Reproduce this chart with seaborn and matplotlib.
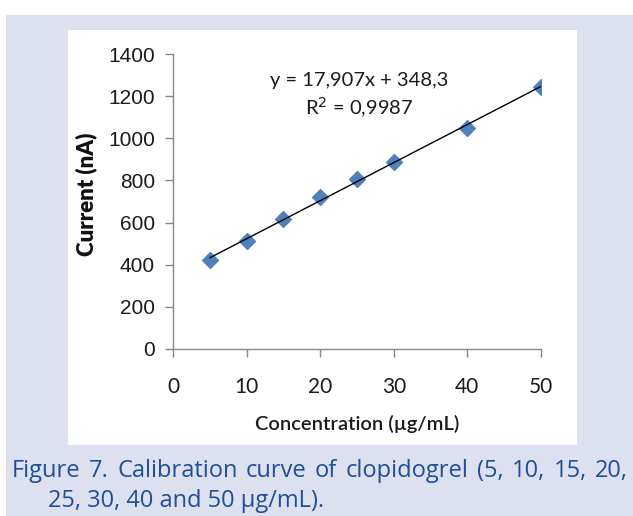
import matplotlib
matplotlib.use("Agg")
import matplotlib.pyplot as plt
import seaborn as sns
from matplotlib.patches import Rectangle

# calibration data
concentration = [5, 10, 15, 20, 25, 30, 40, 50]
current = [423, 513, 615, 722, 808, 888, 1050, 1245]
x_ticks = [0, 10, 20, 30, 40, 50]
y_ticks = [0, 200, 400, 600, 800, 1000, 1200, 1400]

caption_1 = 'Figure 7. Calibration curve of clopidogrel (5, 10, 15, 20,'
caption_2 = '25, 30, 40 and 50 µg/mL).'

sns.set_style("white")
plt.rcParams['font.family'] = ['Lato', 'DejaVu Sans']

W, H = 633, 516
fig = plt.figure(figsize=(W / 100, H / 100), dpi=100, facecolor='white')

def px_rect(x0, y0, x1, y1, color):
    # rectangle given in pixel coords (top-left origin)
    fig.patches.append(Rectangle((x0 / W, 1 - y1 / H), (x1 - x0) / W, (y1 - y0) / H,
                                 transform=fig.transFigure, facecolor=color,
                                 edgecolor='none', zorder=-10))

px_rect(6, 15, 633, 516, '#dde1ef')
px_rect(68, 30, 577, 445, 'white')

ax = fig.add_axes([173 / W, 1 - 349 / H, (541 - 173) / W, (349 - 54) / H])
ax.patch.set_alpha(0)

sns.regplot(x=concentration, y=current, ax=ax, ci=None, truncate=True, marker='D',
            scatter_kws=dict(s=65, color='#4f81bd', edgecolor='#4f81bd', alpha=1, zorder=2),
            line_kws=dict(color='black', lw=1.0, zorder=3))

ax.set_xlim(0, 50)
ax.set_ylim(0, 1400)
ax.set_xticks(x_ticks)
ax.set_yticks(y_ticks)
ax.set_xticklabels([str(v) for v in x_ticks], fontsize=15, color='#1a1a1a')
ax.set_yticklabels([str(v) for v in y_ticks], fontsize=15, color='#1a1a1a',
                   family=['Liberation Sans Narrow', 'Liberation Sans', 'DejaVu Sans'])

sns.despine(ax=ax)
for s in ['left', 'bottom']:
    ax.spines[s].set_color('#888888')
    ax.spines[s].set_linewidth(1.0)
ax.tick_params(axis='both', direction='out', length=6, width=1, color='#888888',
               left=True, bottom=True)
ax.tick_params(axis='y', pad=7)
ax.tick_params(axis='x', pad=14)

ax.set_xlabel('Concentration (µg/mL)', fontsize=14.5, fontweight='semibold',
              color='#1a1a1a', labelpad=13)
ax.set_ylabel('Current (nA)', fontsize=16, fontweight='heavy', color='#111111')
ax.yaxis.set_label_coords(-0.205, 0.525)

ax.text(0.507, 0.91, 'y = 17,907x + 348,3', transform=ax.transAxes, ha='center',
        va='center', fontsize=14.5, color='#1a1a1a')
ax.text(0.507, 0.818, 'R$^2$ = 0,9987', transform=ax.transAxes, ha='center',
        va='center', fontsize=14.5, color='#1a1a1a')

# justified caption, first line spread across the full width
cap_kw = dict(fontsize=17, color='#1f4f96', family=['Open Sans', 'DejaVu Sans'],
              va='baseline', ha='left')
renderer = fig.canvas.get_renderer()
words = caption_1.split(' ')
texts = [fig.text(0, 1 - 477 / H, w, **cap_kw) for w in words]
widths = [t.get_window_extent(renderer).width for t in texts]
x0, x1 = 12, 628
gap = (x1 - x0 - sum(widths)) / (len(words) - 1)
xpos = x0
for t, w in zip(texts, widths):
    t.set_x(xpos / W)
    xpos += w + gap
fig.text(48 / W, 1 - 507 / H, caption_2, **cap_kw)

fig.savefig('out.png', dpi=100, facecolor='white')
